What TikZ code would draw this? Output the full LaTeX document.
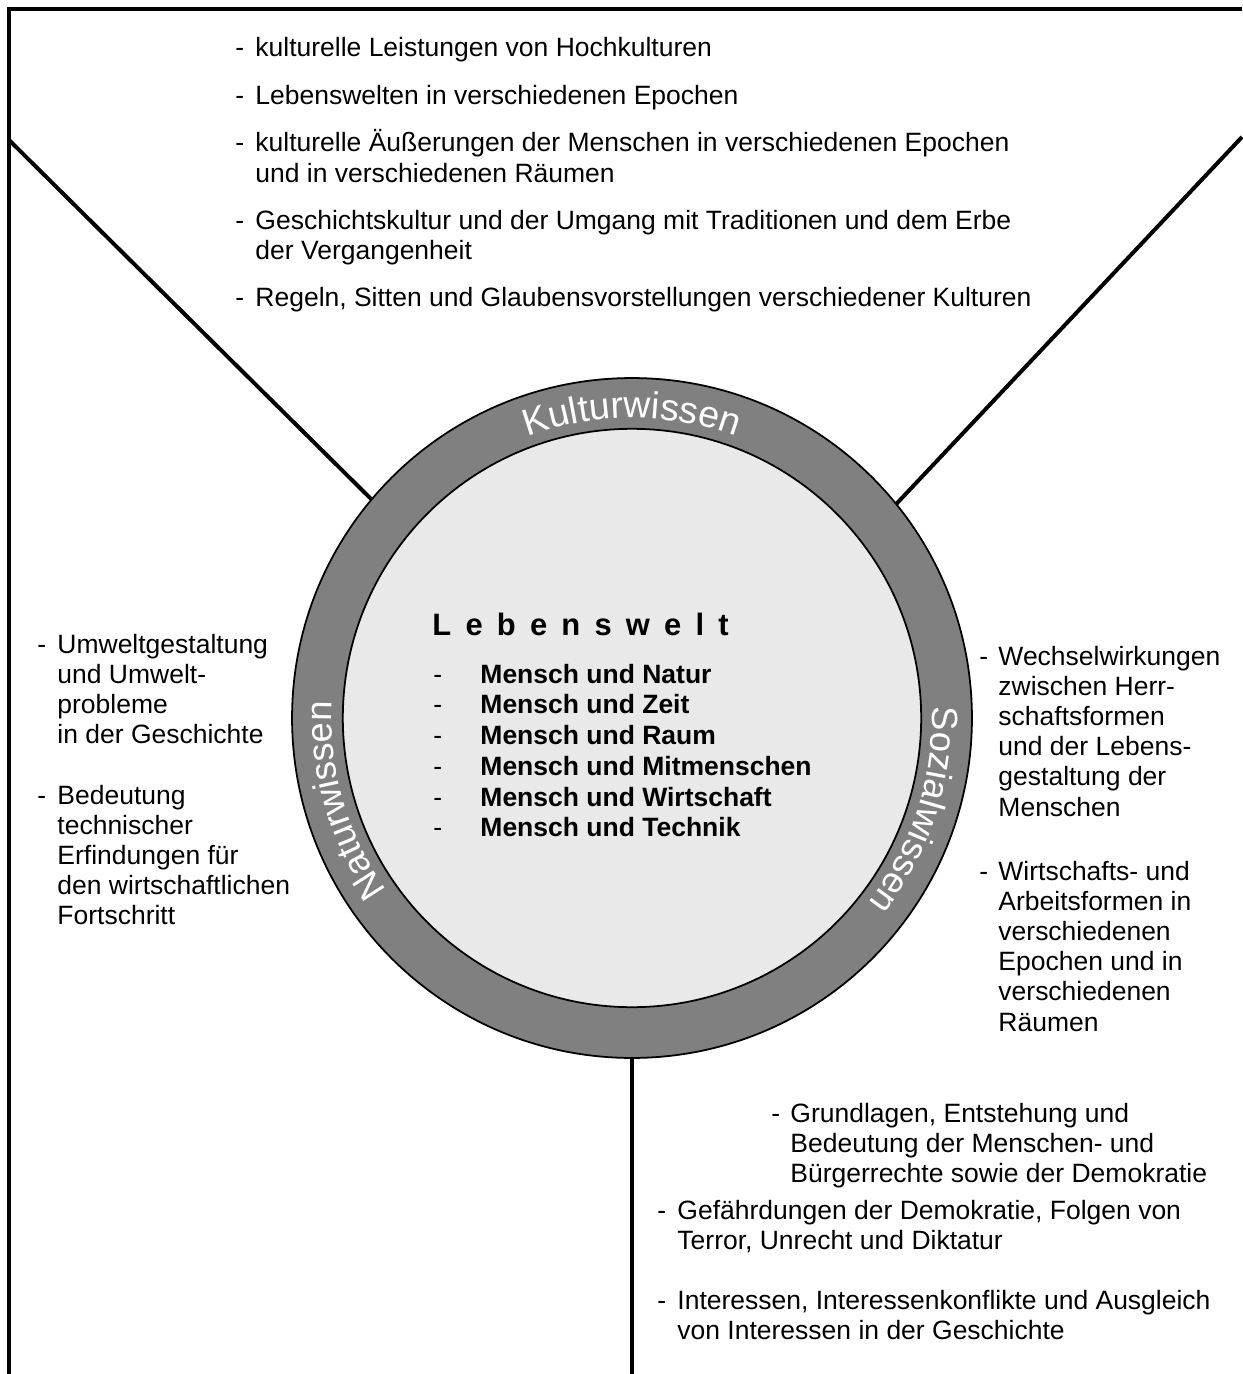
\documentclass[tikz,border=0pt]{standalone}
\usepackage{fontspec}
\setmainfont{Liberation Sans}
\usetikzlibrary{decorations.text}

\newlength{\pxl}
\setlength{\pxl}{0.453pt}

% Spiegelstrich, danach der Block mit den Zeilen
\newcommand{\strich}[2][20]{%
  \begin{tabular}[t]{@{}p{#1\pxl}@{}l@{}}-&\begin{tabular}[t]{@{}l@{}}#2\end{tabular}\end{tabular}}

\tikzset{rahmen/.style = {line width=1.8pt},
         liste/.style = {anchor=base west, inner sep=0pt,
                         font=\fontsize{12}{13.7}\selectfont},
         scheibe/.style = {circle, draw, line width=0.8pt,
                           inner sep=0pt, outer sep=0pt},
         ringtext/.style 2 args = {decorate,
                         decoration={text along path, text color=white,
                                     text align=center,
                                     text={|\fontsize{#1}{#1}\selectfont|#2}}}}

\begin{document}
\begin{tikzpicture}[x=0.453pt, y=0.453pt]
  \useasboundingbox (0,0) rectangle (1242,-1374);
  \draw[rahmen, line join=miter] (9,-1374) -- (9,-9) -- (1242,-9);

  \node[scheibe, fill=gray, minimum size=308pt] (ring) at (632,-718) {};
  \node[scheibe, fill=gray!17, minimum size=262pt] (feld) at (ring.center) {};

  \coordinate (lo) at (9,-140);
  \coordinate (ro) at (1242,-137);
  \coordinate (un) at (632,-1374);
  \draw[rahmen] (lo) -- (ring.140);
  \draw[rahmen] (ro) -- (ring.39);
  \draw[rahmen] (ring.south) -- (un);

  % Beschriftung im Ring
  \path[ringtext={17}{Kulturwissen}] ([shift={(120:300)}]ring.center)
    arc[start angle=120, end angle=60, radius=300];
  \path[ringtext={16.5}{Naturwissen}] ([shift={(227:300)}]ring.center)
    arc[start angle=227, end angle=165, radius=300];
  \path[ringtext={16.5}{Sozialwissen}] ([shift={(14:300)}]ring.center)
    arc[start angle=14, end angle=-50, radius=300];

  % Mitte
  \node[anchor=base west, inner sep=0pt,
        font=\fontsize{14}{16}\selectfont\bfseries\addfontfeature{LetterSpace=46}]
        (titel) at (432,-635) {Lebenswelt};
  \node[anchor=base west, inner sep=0pt, font=\fontsize{12}{13.95}\selectfont]
        (themen) at (433,-683) {\begin{tabular}[t]{@{}p{47\pxl}@{}l@{}}
          - & \textbf{Mensch und Natur}\\
          - & \textbf{Mensch und Zeit}\\
          - & \textbf{Mensch und Raum}\\
          - & \textbf{Mensch und Mitmenschen}\\
          - & \textbf{Mensch und Wirtschaft}\\
          - & \textbf{Mensch und Technik}
        \end{tabular}};

  % Kulturwissen
  \node[liste] (kw1) at (235,-57) {\strich{kulturelle Leistungen von Hochkulturen}};
  \node[liste] (kw2) at (235,-105) {\strich{Lebenswelten in verschiedenen Epochen}};
  \node[liste] (kw3) at (235,-152) {\strich{kulturelle Äußerungen der Menschen in verschiedenen Epochen\\
    und in verschiedenen Räumen}};
  \node[liste] (kw4) at (235,-229) {\strich{Geschichtskultur und der Umgang mit Traditionen und dem Erbe\\
    der Vergangenheit}};
  \node[liste] (kw5) at (235,-306) {\strich{Regeln, Sitten und Glaubensvorstellungen verschiedener Kulturen}};

  % Naturwissen
  \node[liste] (nw1) at (37,-653) {\strich{Umweltgestaltung\\ und Umwelt-\\ probleme\\ in der Geschichte}};
  \node[liste] (nw2) at (37,-804) {\strich{Bedeutung\\ technischer\\ Erfindungen für\\
    den wirtschaftlichen\\ Fortschritt}};

  % Sozialwissen
  \node[liste] (sw1) at (979,-665) {\strich[19]{Wechselwirkungen\\ zwischen Herr-\\ schaftsformen\\
    und der Lebens-\\ gestaltung der\\ Menschen}};
  \node[liste] (sw2) at (979,-880) {\strich[19]{Wirtschafts- und\\ Arbeitsformen in\\ verschiedenen\\
    Epochen und in\\ verschiedenen\\ Räumen}};
  \node[liste] (gw1) at (771,-1122) {\strich[19]{Grundlagen, Entstehung und\\
    Bedeutung der Menschen- und\\ Bürgerrechte sowie der Demokratie}};
  \node[liste] (gw2) at (657,-1219) {\strich{Gefährdungen der Demokratie, Folgen von\\
    Terror, Unrecht und Diktatur}};
  \node[liste] (gw3) at (657,-1309) {\strich{Interessen, Interessenkonflikte und Ausgleich\\
    von Interessen in der Geschichte}};
\end{tikzpicture}
\end{document}
